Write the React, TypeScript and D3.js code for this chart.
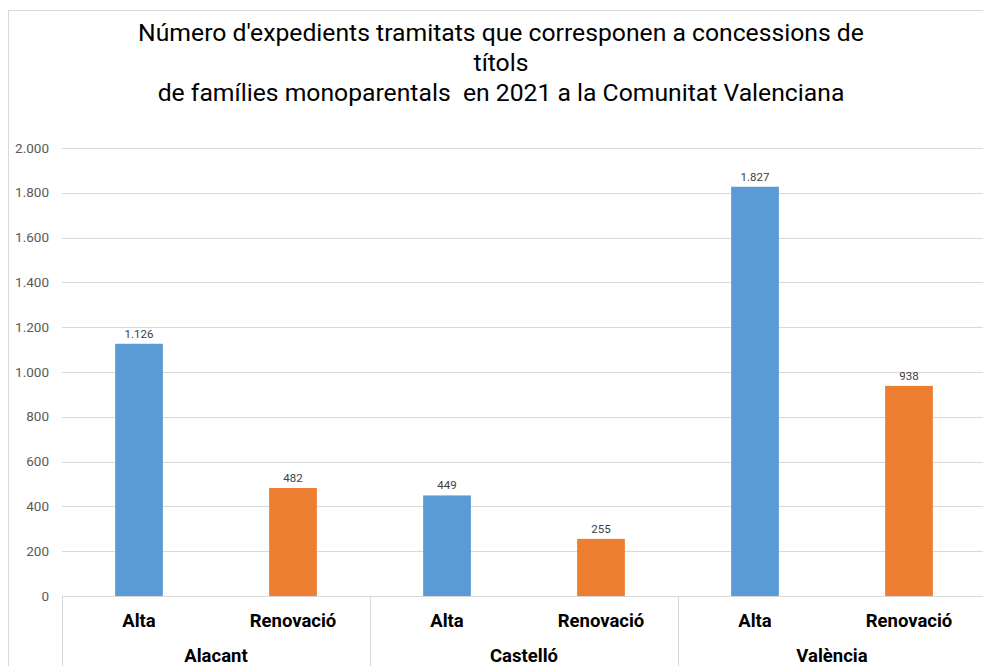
import React from "react";
import * as d3 from "d3";

const groups = ["Alacant", "Castelló", "València"];
const types = ["Alta", "Renovació"];
const altaValues = [1126, 449, 1827];
const renovacioValues = [482, 255, 938];
const yTicks = [0, 200, 400, 600, 800, 1000, 1200, 1400, 1600, 1800, 2000];
const colors = ["#5b9bd5", "#ed7d31"];
const titleLines = [
  "Número d'expedients tramitats que corresponen a concessions de",
  "títols",
  "de famílies monoparentals  en 2021 a la Comunitat Valenciana",
];

const W = 983;
const H = 666;
const fmt = (v: number) => d3.format(",")(v).replace(/,/g, ".");

export default function App() {
  const left = 62;
  const right = 986;
  const top = 148;
  const bottom = 596;
  const y = d3.scaleLinear().domain([0, 2000]).range([bottom, top]);
  const items = groups.flatMap((g, gi) =>
    types.map((t, ti) => ({
      key: g + "-" + t,
      group: g,
      type: t,
      ti,
      value: ti === 0 ? altaValues[gi] : renovacioValues[gi],
    }))
  );
  const x = d3
    .scaleBand<string>()
    .domain(items.map((d) => d.key))
    .range([left, right])
    .paddingInner(0.69)
    .paddingOuter(0.345);
  const gx = d3.scaleBand<string>().domain(groups).range([left, right]);

  return (
    <svg
      width={W}
      height={H}
      style={{ position: "fixed", left: 0, top: 0, background: "#fff" }}
      fontFamily="Roboto, 'Liberation Sans', Arial, sans-serif"
    >
      <rect x={8.5} y={10.5} width={W + 10} height={H + 10} fill="#fff" stroke="#d9d9d9" strokeWidth={1} />
      {titleLines.map((l, i) => (
        <text
          key={i}
          x={0}
          y={0}
          textAnchor="middle"
          fontSize={23}
          fill="#000"
          style={{ whiteSpace: "pre" }}
          transform={`translate(501,${41 + i * 30}) scale(1.075,1.04)`}
        >
          {l}
        </text>
      ))}
      {yTicks.map((t) => (
        <g key={t}>
          <line x1={left} x2={W} y1={Math.round(y(t)) + 0.5} y2={Math.round(y(t)) + 0.5} stroke="#d9d9d9" strokeWidth={1} />
          <text x={49} y={y(t) + 4.5} textAnchor="end" fontSize={13.5} fill="#595959">
            {fmt(t)}
          </text>
        </g>
      ))}
      {items.map((d) => (
        <g key={d.key}>
          <rect x={x(d.key)} y={y(d.value)} width={x.bandwidth()} height={bottom - y(d.value)} fill={colors[d.ti]} />
          <text x={(x(d.key) as number) + x.bandwidth() / 2} y={y(d.value) - 6} textAnchor="middle" fontSize={11.5} fill="#404040">
            {fmt(d.value)}
          </text>
          <text x={(x(d.key) as number) + x.bandwidth() / 2} y={627} textAnchor="middle" fontSize={18.5} fontWeight="bold" fill="#000">
            {d.type}
          </text>
        </g>
      ))}
      {groups.map((g) => (
        <g key={g}>
          <line x1={(gx(g) as number) + 0.5} x2={(gx(g) as number) + 0.5} y1={bottom} y2={H} stroke="#d9d9d9" strokeWidth={1} />
          <text x={(gx(g) as number) + gx.bandwidth() / 2} y={662} textAnchor="middle" fontSize={18.5} fontWeight="bold" fill="#000">
            {g}
          </text>
        </g>
      ))}
      <line x1={left} x2={W} y1={bottom + 0.5} y2={bottom + 0.5} stroke="#d9d9d9" strokeWidth={1} />
    </svg>
  );
}
